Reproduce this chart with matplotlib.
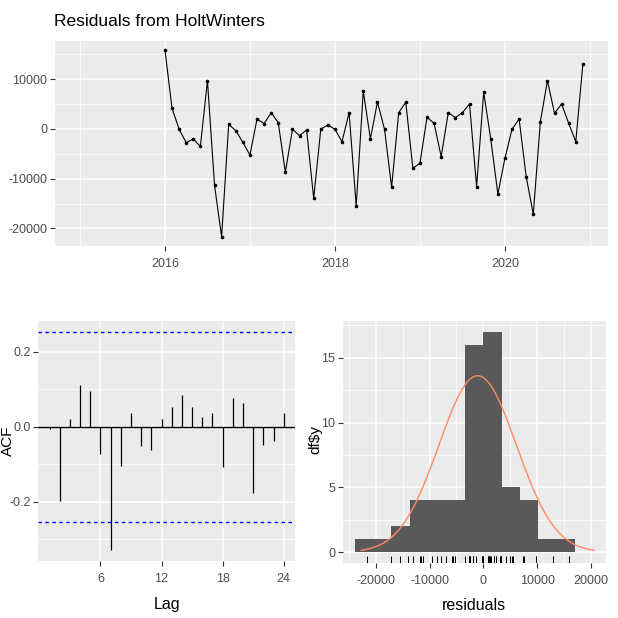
import numpy as np
import matplotlib.pyplot as plt

plt.rcParams['font.family'] = ['Liberation Sans Narrow', 'Liberation Sans', 'DejaVu Sans']

# monthly residuals from HoltWinters, Jan 2015 - Dec 2020 (first season has no fit)
start_year = 2015
resid_2015 = [np.nan] * 12
resid_2016 = [15900, 4160, -40, -2750, -2000, -3500, 9700, -11300, -21700, 940, -340, -2700]
resid_2017 = [-5230, 2010, 1070, 3300, 1270, -8700, -60, -1340, -200, -13950, -30, 800]
resid_2018 = [-60, -2550, 3280, -15500, 7650, -2010, 5430, -60, -11730, 3280, 5370, -7900]
resid_2019 = [-6900, 2350, 1140, -5570, 3280, 2280, 3300, 5030, -11600, 7380, -2010, -13080]
resid_2020 = [-5900, -60, 2010, -9600, -17170, 1470, 9720, 3150, 5030, 1140, -2550, 13020]

# autocorrelations, lags 1..24
acf_vals = [-0.006, -0.198, 0.021, 0.112, 0.096, -0.072, -0.329, -0.104, 0.037, -0.053,
            -0.062, 0.021, 0.053, 0.084, 0.053, 0.026, 0.037, -0.108, 0.076, 0.063,
            -0.178, -0.049, -0.038, 0.037]

n_bins = 11
line_col = '#ff8a62'

resid = np.array(resid_2015 + resid_2016 + resid_2017 + resid_2018 + resid_2019 + resid_2020, dtype=float)
t = start_year + np.arange(len(resid)) / 12
ok = ~np.isnan(resid)
r = resid[ok]
lags = np.arange(1, len(acf_vals) + 1)
acf_vals = np.array(acf_vals)
ci = 1.96 / np.sqrt(len(r))


def expand(lo, hi, mult=0.05):
	d = (hi - lo) * mult
	return lo - d, hi + d


def gg_style(ax, xmajor, xminor, ymajor, yminor):
	"""grey panel, white grid, like theme_grey"""
	ax.set_facecolor('#EBEBEB')
	for s in ax.spines.values():
		s.set_visible(False)
	ax.set_xticks(xmajor)
	ax.set_xticks(xminor, minor=True)
	ax.set_yticks(ymajor)
	ax.set_yticks(yminor, minor=True)
	ax.grid(which='major', color='white', lw=1.1)
	ax.grid(which='minor', color='white', lw=0.55)
	ax.set_axisbelow(True)
	ax.tick_params(which='major', length=3.3, width=0.8, color='#333333',
				   labelcolor='#4D4D4D', labelsize=9, pad=2)
	ax.tick_params(axis='x', which='major', pad=5)
	ax.tick_params(which='minor', length=0)


W = 618
fig = plt.figure(figsize=(6.18, 6.18), dpi=100)

def px_axes(x0, y0, x1, y1):
	return fig.add_axes([x0 / W, 1 - y1 / W, (x1 - x0) / W, (y1 - y0) / W])

# time plot of residuals
ax1 = px_axes(54.8, 40.6, 608, 246.2)
gg_style(ax1, [2016, 2018, 2020], [2015, 2017, 2019, 2021],
		 [-20000, -10000, 0, 10000], [-15000, -5000, 5000, 15000])
ax1.plot(t, resid, color='black', lw=0.8)
ax1.plot(t, resid, 'o', color='black', ms=1.6)
ax1.set_xlim(*expand(t[0], t[-1]))
ax1.set_ylim(*expand(np.nanmin(resid), np.nanmax(resid)))
ax1.set_yticklabels(['-20000', '-10000', '0', '10000'])
fig.text(54.5 / W, 1 - 26.5 / W, 'Residuals from HoltWinters', fontsize=12.5,
		 ha='left', va='baseline')

# ACF
ax2 = px_axes(38.3, 320.7, 295, 561)
gg_style(ax2, [6, 12, 18, 24], [], [-0.2, 0.0, 0.2], [-0.3, -0.1, 0.1])
ax2.vlines(lags, 0, acf_vals, color='black', lw=0.9)
ax2.axhline(0, color='black', lw=1.0)
ax2.axhline(ci, color='blue', lw=1.0, ls=(0, (2.5, 2.5)))
ax2.axhline(-ci, color='blue', lw=1.0, ls=(0, (2.5, 2.5)))
ax2.set_xlim(-0.1, 25.1)
ax2.set_ylim(*expand(min(acf_vals.min(), -ci), max(acf_vals.max(), ci)))
ax2.set_yticklabels(['-0.2', '0.0', '0.2'])
fig.text(8 / W, 1 - 441 / W, 'ACF', fontsize=11, rotation=90, ha='center', va='center')
fig.text(167 / W, 1 - 605 / W, 'Lag', fontsize=11.5, ha='center', va='center')

# histogram with normal curve and rug
bw = (r.max() - r.min()) / n_bins
edges = np.arange(np.floor(r.min() / bw), np.ceil(r.max() / bw) + 1) * bw
mu, sd = r.mean(), r.std(ddof=1)
xg = np.linspace(min(r.min(), mu - 3 * sd), max(r.max(), mu + 3 * sd), 512)
yg = len(resid) * bw * np.exp(-0.5 * ((xg - mu) / sd) ** 2) / (sd * np.sqrt(2 * np.pi))

ax3 = px_axes(342.7, 320.7, 606, 563.3)
gg_style(ax3, [-20000, -10000, 0, 10000, 20000], [-25000, -15000, -5000, 5000, 15000],
		 [0, 5, 10, 15], [2.5, 7.5, 12.5, 17.5])
counts, _, _ = ax3.hist(r, bins=edges, color='#595959')
ax3.plot(xg, yg, color=line_col, lw=1.0)
ax3.vlines(r, 0, 0.03, transform=ax3.get_xaxis_transform(), color='black', lw=0.7)
ax3.set_xlim(*expand(min(edges[0], xg[0]), max(edges[-1], xg[-1])))
ax3.set_ylim(*expand(0, counts.max()))
ax3.set_xticklabels(['-20000', '-10000', '0', '10000', '20000'])
fig.text(315 / W, 1 - 440 / W, 'df\\$y', fontsize=11, rotation=90, ha='center', va='center')
fig.text(474 / W, 1 - 606 / W, 'residuals', fontsize=11.5, ha='center', va='center')

fig.savefig('out.png', dpi=100)
